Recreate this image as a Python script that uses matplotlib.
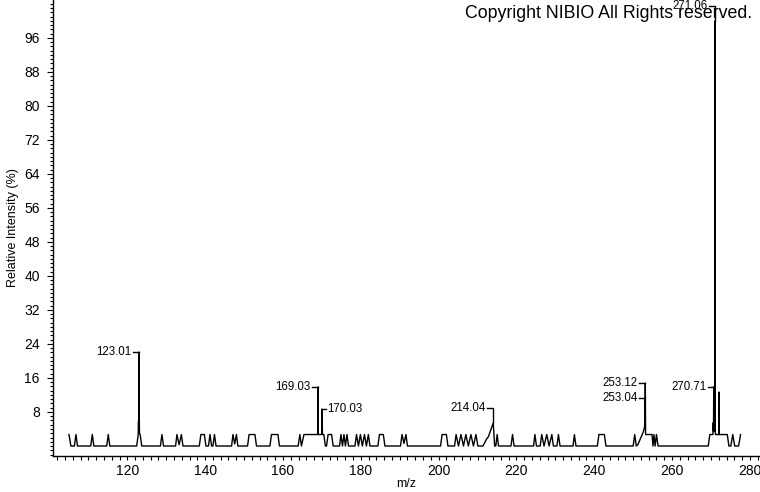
import matplotlib
matplotlib.use("Agg")
import matplotlib.pyplot as plt
from matplotlib import font_manager
from matplotlib.ticker import MultipleLocator, FixedLocator

# profile of the spectrum (m/z, relative intensity %)
mz = [105.0, 105.5, 106.4, 106.8, 107.2, 110.6, 111.0, 111.4, 114.7, 115.1, 115.5,
      122.4, 122.8, 122.88, 122.94, 123.01, 123.07, 123.13, 123.3, 123.7,
      128.5, 128.9, 129.3, 132.4, 132.75, 133.3, 133.9, 134.3,
      138.5, 138.9, 139.8, 140.2, 140.85, 141.25, 141.65, 142.0, 142.4, 142.8,
      146.8, 147.15, 147.6, 148.05, 148.4, 150.9, 151.3, 152.8, 153.2,
      156.65, 157.05, 158.7, 159.1, 163.9, 164.35, 164.75, 165.4,
      169.0, 169.03, 169.06, 169.95, 169.99, 170.03, 170.08, 170.15, 170.5, 170.9,
      171.2, 171.6, 172.5, 172.9, 174.55, 174.9, 175.3, 175.68, 176.05, 176.45, 176.85,
      178.5, 178.9, 179.4, 179.9, 180.4, 180.95, 181.45, 181.95, 182.35,
      184.4, 184.8, 185.8, 186.2, 190.2, 190.6, 191.1, 191.6, 192.0,
      200.5, 200.9, 202.0, 202.4, 204.1, 204.5, 205.1, 205.75, 206.4, 207.0, 207.65,
      208.3, 208.95, 209.6, 210.1, 211.4, 212.3, 212.8, 214.04, 214.4, 214.7, 215.05, 215.4,
      218.6, 219.0, 219.4, 224.4, 224.76, 225.15, 226.1, 226.5, 227.1, 227.8, 228.4,
      229.1, 229.5, 230.4, 230.8, 231.2, 234.55, 234.9, 235.3,
      240.8, 241.2, 242.6, 243.0, 250.0, 250.4, 250.8, 251.2, 252.6, 252.95,
      253.04, 253.08, 253.12, 253.2, 254.85, 255.1, 255.35, 255.65, 256.0, 256.4,
      269.3, 269.7, 270.5, 270.6, 270.65, 270.71, 270.76, 270.82, 270.88, 270.95, 271.0,
      271.06, 271.12, 271.2, 272.0, 272.06, 272.12, 274.2, 274.6, 275.1, 275.6, 276.1,
      277.1, 277.6]
intensity = [2.7, 0, 0, 2.7, 0, 0, 2.7, 0, 0, 2.7, 0,
             0, 2.7, 5.8, 3.0, 22.1, 6.0, 3.0, 2.7, 0,
             0, 2.7, 0, 0, 2.7, 0.3, 2.7, 0,
             0, 2.7, 2.7, 0, 0, 2.7, 0, 0, 2.7, 0,
             0, 2.7, 0.5, 2.7, 0, 0, 2.7, 2.7, 0,
             0, 2.7, 2.7, 0, 0, 2.7, 0, 2.7,
             2.7, 13.9, 2.7, 2.7, 5.8, 8.7, 5.8, 2.7, 2.7, 0,
             0, 2.7, 2.7, 0, 0, 2.7, 0, 2.7, 0, 2.7, 0,
             0, 2.7, 0, 2.7, 0, 2.7, 0, 2.7, 0,
             0, 2.7, 2.7, 0, 0, 2.7, 0.6, 2.7, 0,
             0, 2.7, 2.7, 0, 0, 2.7, 0, 2.7, 0, 2.7, 0,
             2.7, 0, 2.7, 0, 0, 1.6, 2.2, 5.4, 0, 0, 2.7, 0,
             0, 2.7, 0, 0, 2.7, 0, 0, 2.7, 0, 2.7, 0,
             2.7, 0, 0, 2.7, 0, 0, 2.7, 0,
             0, 2.7, 2.7, 0, 0, 2.7, 0, 0.3, 3.3, 4.5,
             11.2, 6.0, 14.8, 2.7, 2.7, 0, 2.7, 0, 2.7, 0,
             0, 2.7, 2.7, 5.5, 3.5, 13.9, 4.0, 6.9, 4.0, 6.0, 3.5,
             100, 3.0, 2.7, 2.7, 12.7, 2.7, 2.7, 0, 0, 2.7, 0,
             0, 2.7]

# annotated peaks
label_text = ["123.01", "169.03", "170.03", "214.04", "253.12", "253.04", "270.71", "271.06"]
label_mz = [123.01, 169.03, 170.03, 214.04, 253.12, 253.04, 270.71, 271.06]
label_peak = [22.1, 13.9, 8.7, 5.4, 14.8, 11.2, 13.9, 100]
label_y = [22.1, 13.9, 8.7, 8.9, 14.8, 11.2, 13.9, 103.4]
label_side = ["left", "left", "right", "left", "left", "left", "left", "left"]

names = {f.name for f in font_manager.fontManager.ttflist}
narrow = "Liberation Sans Narrow" if "Liberation Sans Narrow" in names else "Liberation Sans"
plt.rcParams["font.family"] = ["Liberation Sans", "DejaVu Sans"]

W, H = 760, 492
fig = plt.figure(figsize=(W / 100, H / 100), dpi=100)
ax = fig.add_axes([53 / W, 36 / H, 1 - 53 / W, 1 - 36 / H])

ax.plot(mz, intensity, color="black", lw=1.0)

x0, x1 = 100.9, 282.6
y0, y1 = -2.35, 104.9
ax.set_xlim(x0, x1)
ax.set_ylim(y0, y1)

# pixel -> data scale
sx = (x1 - x0) / (W - 53)

for txt, m, pk, ly, side in zip(label_text, label_mz, label_peak, label_y, label_side):
    if side == "left":
        ax.plot([m - 6 * sx, m, m], [ly, ly, pk], color="black", lw=1.0)
        ax.text(m - 7.5 * sx, ly, txt, ha="right", va="center", fontsize=8.3)
    else:
        ax.plot([m, m, m + 4 * sx], [pk, ly, ly], color="black", lw=1.0)
        ax.text(m + 5.5 * sx, ly, txt, ha="left", va="center", fontsize=8.3)

for s in ["top", "right"]:
    ax.spines[s].set_visible(False)
for s in ["left", "bottom"]:
    ax.spines[s].set_linewidth(1.0)

ax.yaxis.set_major_locator(FixedLocator(range(8, 97, 8)))
ax.yaxis.set_minor_locator(MultipleLocator(1))
ax.xaxis.set_major_locator(MultipleLocator(20))
ax.xaxis.set_minor_locator(MultipleLocator(2))
ax.tick_params(axis="y", which="major", length=4.5, width=0.8, pad=5)
ax.tick_params(axis="y", which="minor", length=2.2, width=0.8)
ax.tick_params(axis="x", which="both", length=3, width=0.8, pad=2.5)
for lab in ax.get_xticklabels() + ax.get_yticklabels():
    lab.set_fontfamily(narrow)
    lab.set_fontsize(10)

ax.set_xlabel("m/z", fontsize=9, fontfamily=narrow, labelpad=0.5)
ax.set_ylabel("Relative Intensity (%)", fontsize=9, fontfamily=narrow, labelpad=4)

fig.text(752 / W, 1 - 13 / H, "Copyright NIBIO All Rights reserved.",
         ha="right", va="center", fontsize=12.8)

fig.savefig("out.png", dpi=100)
